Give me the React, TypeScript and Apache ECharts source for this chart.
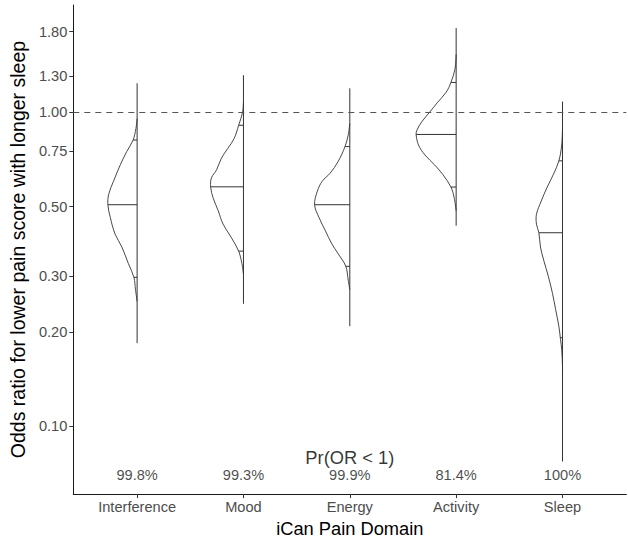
import React, { useEffect, useRef } from "react";
import * as echarts from "echarts";

// ---------- data ----------
const categories = ["Interference", "Mood", "Energy", "Activity", "Sleep"];
const probLabels = ["99.8%", "99.3%", "99.9%", "81.4%", "100%"];
const probTitle = "Pr(OR < 1)";
const yTicks = [0.1, 0.2, 0.3, 0.5, 0.75, 1.0, 1.3, 1.8];

// full range of the posterior draws (vertical lines)
const rangeLow = [0.184, 0.2456, 0.2084, 0.435, 0.0774];
const rangeHigh = [1.234, 1.309, 1.189, 1.848, 1.079];

// quantiles drawn inside the violins
const q10 = [0.298, 0.361, 0.323, 0.577, 0.1915];
const q50 = [0.507, 0.578, 0.507, 0.848, 0.413];
const q90 = [0.814, 0.907, 0.776, 1.241, 0.699];

// density profiles (odds ratio, relative density)
const interferenceOR = [0.952, 0.885, 0.814, 0.748, 0.679, 0.602, 0.547, 0.507, 0.462, 0.409, 0.372, 0.33, 0.298, 0.272, 0.25];
const interferenceDen = [0, 0.03, 0.1, 0.26, 0.42, 0.59, 0.71, 0.73, 0.67, 0.55, 0.38, 0.22, 0.08, 0.04, 0];

const moodOR = [1.079, 1.0, 0.907, 0.824, 0.766, 0.713, 0.655, 0.617, 0.578, 0.534, 0.485, 0.44, 0.4, 0.361, 0.33, 0.305];
const moodDen = [0, 0.02, 0.12, 0.23, 0.39, 0.55, 0.67, 0.8, 0.82, 0.76, 0.63, 0.51, 0.31, 0.12, 0.04, 0];

const energyOR = [0.918, 0.844, 0.776, 0.696, 0.639, 0.602, 0.56, 0.507, 0.462, 0.419, 0.381, 0.354, 0.323, 0.292, 0.272];
const energyDen = [0, 0.04, 0.12, 0.29, 0.49, 0.69, 0.81, 0.88, 0.77, 0.61, 0.45, 0.29, 0.1, 0.04, 0];

const activityOR = [1.523, 1.367, 1.241, 1.155, 1.074, 0.999, 0.93, 0.875, 0.848, 0.785, 0.73, 0.679, 0.632, 0.577, 0.534, 0.485];
const activityDen = [0, 0.03, 0.13, 0.25, 0.46, 0.66, 0.86, 0.98, 1.0, 0.94, 0.78, 0.54, 0.33, 0.13, 0.05, 0];

const sleepOR = [0.885, 0.785, 0.699, 0.632, 0.574, 0.521, 0.473, 0.44, 0.413, 0.372, 0.338, 0.299, 0.265, 0.235, 0.208, 0.189, 0.176, 0.156, 0.146];
const sleepDen = [0, 0.02, 0.09, 0.23, 0.39, 0.53, 0.65, 0.65, 0.59, 0.55, 0.47, 0.35, 0.25, 0.17, 0.09, 0.05, 0.02, 0, 0];

const profileOR = [interferenceOR, moodOR, energyOR, activityOR, sleepOR];
const profileDen = [interferenceDen, moodDen, energyDen, activityDen, sleepDen];

// ---------- layout / style ----------
const FONT = "'Liberation Sans', Arial, sans-serif";
const HALF_WIDTH = 0.3765; // x-units for relative density 1
const Y_MIN = -1.215;
const Y_MAX = 0.34;
const PR_TITLE_Y = -1.099;
const PR_LABEL_Y = -1.155;
const LINE_COLOR = "#333333";
const TITLE_SIZE = 18.3;
const Y_TITLE_SIZE = 19.5;
const TICK_SIZE = 14.6;

const lg = (v: number) => Math.log10(v);

function densityAt(ors: number[], dens: number[], q: number): number {
  const lq = lg(q);
  for (let j = 0; j < ors.length - 1; j++) {
    const a = lg(ors[j]);
    const b = lg(ors[j + 1]);
    if ((lq <= a && lq >= b) || (lq >= a && lq <= b)) {
      const t = a === b ? 0 : (lq - a) / (b - a);
      return dens[j] + t * (dens[j + 1] - dens[j]);
    }
  }
  return 0;
}

export default function App() {
  const ref = useRef<HTMLDivElement | null>(null);

  useEffect(() => {
    if (!ref.current) return;
    const chart = echarts.init(ref.current, undefined, { renderer: "svg" });

    const renderItem = (params: any, api: any) => {
      const i = params.dataIndex;
      const cx = i + 1;
      const ors = profileOR[i];
      const dens = profileDen[i];
      const pts = ors.map((o, j) => api.coord([cx - dens[j] * HALF_WIDTH, lg(o)]));

      const children: any[] = [
        {
          type: "polyline",
          shape: { points: pts, smooth: 0.35 },
          style: { fill: "none", stroke: LINE_COLOR, lineWidth: 0.9 },
        },
      ];
      const lo = api.coord([cx, lg(rangeLow[i])]);
      const hi = api.coord([cx, lg(rangeHigh[i])]);
      children.push({
        type: "line",
        shape: { x1: lo[0], y1: lo[1], x2: hi[0], y2: hi[1] },
        style: { stroke: LINE_COLOR, lineWidth: 1 },
      });
      [q10[i], q50[i], q90[i]].forEach((q) => {
        const d = densityAt(ors, dens, q);
        const p1 = api.coord([cx - d * HALF_WIDTH, lg(q)]);
        const p2 = api.coord([cx, lg(q)]);
        children.push({
          type: "line",
          shape: { x1: p1[0], y1: p1[1], x2: p2[0], y2: p2[1] },
          style: { stroke: LINE_COLOR, lineWidth: 1 },
        });
      });
      return { type: "group", children };
    };

    const tickLog = yTicks.map(lg);
    const xTicks = categories.map((_, i) => i + 1);

    chart.setOption({
      animation: false,
      backgroundColor: "#ffffff",
      textStyle: { fontFamily: FONT },
      grid: { left: 60.5, right: 1.7, top: 5, bottom: 42, containLabel: false },
      xAxis: {
        type: "value",
        min: 0.4,
        max: 5.6,
        axisLine: { show: true, onZero: false, lineStyle: { color: "#1a1a1a", width: 1 } },
        axisTick: { show: true, customValues: xTicks, length: 4, lineStyle: { color: LINE_COLOR } },
        axisLabel: {
          customValues: xTicks,
          formatter: (v: number) => categories[Math.round(v) - 1] ?? "",
          color: "#4d4d4d",
          fontSize: TICK_SIZE,
          fontFamily: FONT,
          margin: 5,
        },
        splitLine: { show: false },
        name: "iCan Pain Domain",
        nameLocation: "middle",
        nameGap: 22,
        nameTextStyle: { fontSize: TITLE_SIZE, color: "#000000", fontFamily: FONT },
      },
      yAxis: {
        type: "value",
        min: Y_MIN,
        max: Y_MAX,
        axisLine: { show: true, lineStyle: { color: "#1a1a1a", width: 1 } },
        axisTick: { show: true, customValues: tickLog, length: 4, lineStyle: { color: LINE_COLOR } },
        axisLabel: {
          customValues: tickLog,
          formatter: (v: number) => Math.pow(10, v).toFixed(2),
          color: "#4d4d4d",
          fontSize: TICK_SIZE,
          fontFamily: FONT,
          margin: 6,
        },
        splitLine: { show: false },
        name: "Odds ratio for lower pain score with longer sleep",
        nameLocation: "middle",
        nameGap: 39,
        nameTextStyle: { fontSize: Y_TITLE_SIZE, color: "#000000", fontFamily: FONT },
      },
      series: [
        {
          type: "custom",
          renderItem,
          data: categories.map((_, i) => [i + 1, lg(q50[i])]),
          silent: true,
          markLine: {
            silent: true,
            symbol: "none",
            label: { show: false },
            lineStyle: { type: [6, 5], color: "#555555", width: 1 },
            data: [{ yAxis: lg(1) }],
          },
        },
        {
          type: "scatter",
          symbolSize: 0,
          silent: true,
          data: probLabels.map((p, i) => ({ value: [i + 1, PR_LABEL_Y], name: p })),
          label: {
            show: true,
            position: "inside",
            formatter: (p: any) => p.name,
            fontSize: TICK_SIZE,
            color: "#1a1a1a",
            fontFamily: FONT,
          },
        },
        {
          type: "scatter",
          symbolSize: 0,
          silent: true,
          data: [{ value: [3, PR_TITLE_Y], name: probTitle }],
          label: {
            show: true,
            position: "inside",
            formatter: (p: any) => p.name,
            fontSize: TITLE_SIZE,
            color: "#000000",
            fontFamily: FONT,
          },
        },
      ],
    });

    return () => chart.dispose();
  }, []);

  return (
    <div
      ref={ref}
      style={{ position: "fixed", left: 0, top: 0, width: 628, height: 542, background: "#fff" }}
    />
  );
}
